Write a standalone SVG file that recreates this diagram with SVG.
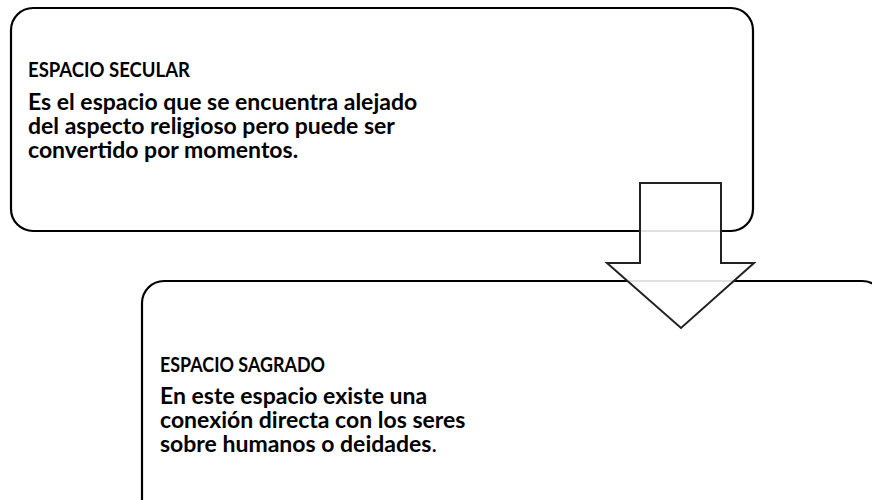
<svg xmlns="http://www.w3.org/2000/svg" width="872" height="500" viewBox="0 0 872 500">
<style>
.box{fill:#fff;stroke:#000;stroke-width:2.2}
.t{font-family:Lato,"Open Sans","Liberation Sans",sans-serif;font-weight:bold;fill:#000}
.h{font-size:21px}
.b{font-size:23px}
.arrow{fill:#fff;fill-opacity:0.88;stroke:#222;stroke-width:2}
</style>
<rect width="872" height="500" fill="#fff"/>
<g id="node-secular">
<rect class="box" x="11" y="8" width="742" height="223" rx="22"/>
<text class="t h" x="28" y="77" textLength="162" lengthAdjust="spacingAndGlyphs">ESPACIO SECULAR</text>
<text class="t b" x="28" y="110">Es el espacio que se encuentra alejado</text>
<text class="t b" x="28" y="134">del aspecto religioso pero puede ser</text>
<text class="t b" x="28" y="158">convertido por momentos.</text>
</g>
<g id="node-sagrado">
<rect class="box" x="142" y="281" width="742" height="240" rx="22"/>
<text class="t h" x="160" y="372" textLength="165" lengthAdjust="spacingAndGlyphs">ESPACIO SAGRADO</text>
<text class="t b" x="160" y="404">En este espacio existe una</text>
<text class="t b" x="160" y="428">conexión directa con los seres</text>
<text class="t b" x="160" y="452">sobre humanos o deidades<tspan font-weight="normal">.</tspan></text>
</g>
<g id="connectors">
<polygon class="arrow" points="640,183 721,183 721,263 754,263 681,328 607,263 640,263"/>
</g>
</svg>
